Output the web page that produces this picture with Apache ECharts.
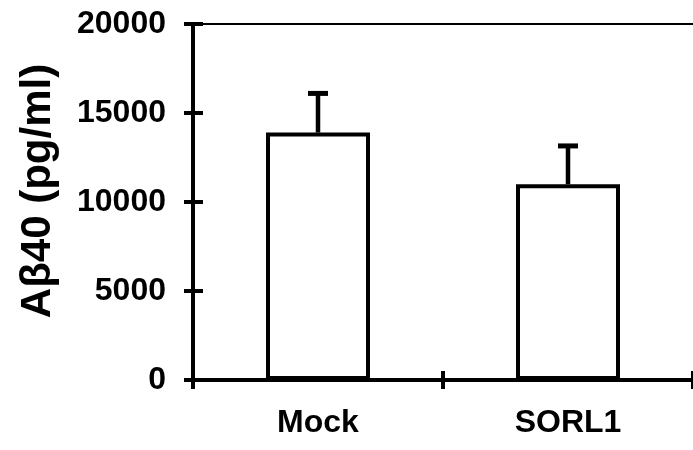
<!DOCTYPE html>
<html>
<head>
<meta charset="utf-8">
<script src="https://cdn.jsdelivr.net/npm/echarts@6/dist/echarts.min.js"></script>
<style>
html,body{margin:0;padding:0;background:#fff;}
#chart{width:693px;height:450px;}
</style>
</head>
<body>
<div id="chart"></div>
<script>
var categories = ['Mock', 'SORL1'];
var means = [13900, 11000];
var errors = [2200, 2150];
var yTicks = [0, 5000, 10000, 15000, 20000];

var FONT = '"Liberation Sans", Arial, Helvetica, sans-serif';
var chart = echarts.init(document.getElementById('chart'), null, {renderer: 'canvas'});

var errData = categories.map(function (c, i) { return [i, means[i], means[i] + errors[i]]; });
var innerTickData = yTicks.map(function (v) { return [0, v]; });

var option = {
  animation: false,
  backgroundColor: '#fff',
  grid: {left: 193, right: -4, top: 24, bottom: 70, containLabel: false},
  xAxis: [
    {
      type: 'category', data: categories, position: 'bottom',
      boundaryGap: true,
      axisLine: {show: true, onZero: false, lineStyle: {color: '#000', width: 4}},
      axisTick: {show: true, alignWithLabel: false, length: 9, inside: false, lineStyle: {color: '#000', width: 4}},
      axisLabel: {show: true, margin: 27, color: '#000', fontFamily: FONT, fontWeight: 'bold', fontSize: 32},
      splitLine: {show: false}
    },
    {
      type: 'category', data: categories, position: 'bottom', offset: 0,
      axisLine: {show: true, onZero: false, lineStyle: {color: 'rgba(0,0,0,0)', width: 1}},
      axisTick: {show: true, length: 9, inside: true, lineStyle: {color: '#000', width: 4}},
      axisLabel: {show: false},
      splitLine: {show: false}
    },
    {
      type: 'category', data: categories, position: 'top', offset: 0,
      axisLine: {show: true, onZero: false, lineStyle: {color: '#000', width: 2}},
      axisTick: {show: false},
      axisLabel: {show: false},
      splitLine: {show: false}
    }
  ],
  yAxis: [
    {
      type: 'value', position: 'left', min: yTicks[0], max: yTicks[yTicks.length - 1], interval: 5000,
      name: 'A\u03b240 (pg/ml)', nameLocation: 'middle', nameGap: 134, nameRotate: 90,
      nameTextStyle: {color: '#000', fontFamily: FONT, fontWeight: 'bold', fontSize: 42, padding: [0, 0, 0, 22]},
      axisLine: {show: true, onZero: false, lineStyle: {color: '#000', width: 4}},
      axisTick: {show: true, length: 9, inside: false, lineStyle: {color: '#000', width: 4}},
      axisLabel: {show: true, margin: 27, color: '#000', fontFamily: FONT, fontWeight: 'bold', fontSize: 32,
        formatter: function (v) { return String(v); }},
      splitLine: {show: false}
    }
  ],
  series: [
    {
      type: 'bar', data: means, xAxisIndex: 0, yAxisIndex: 0,
      barWidth: 104,
      itemStyle: {color: '#fff', borderColor: '#000', borderWidth: 4},
      z: 2
    },
    {
      type: 'custom', xAxisIndex: 1, yAxisIndex: 0, z: 3,
      data: errData,
      encode: {x: 0, y: [1, 2]},
      renderItem: function (params, api) {
        var x = api.value(0);
        var base = api.coord([x, api.value(1)]);
        var top = api.coord([x, api.value(2)]);
        var hw = 10;
        return {
          type: 'group',
          children: [
            {type: 'line', shape: {x1: base[0], y1: base[1], x2: top[0], y2: top[1]}, style: {stroke: '#000', lineWidth: 4.5}},
            {type: 'line', shape: {x1: top[0] - hw, y1: top[1], x2: top[0] + hw, y2: top[1]}, style: {stroke: '#000', lineWidth: 5}}
          ]
        };
      }
    },
    {
      type: 'custom', xAxisIndex: 0, yAxisIndex: 0, z: 4, clip: false, silent: true,
      data: innerTickData,
      encode: {x: 0, y: 1},
      renderItem: function (params, api) {
        var p = api.coord([api.value(0), api.value(1)]);
        var band = api.size([1, 0])[0];
        var x0 = p[0] - band / 2;
        return {
          type: 'line',
          shape: {x1: x0, y1: p[1], x2: x0 + 10, y2: p[1]},
          style: {stroke: '#000', lineWidth: 4}
        };
      }
    }
  ]
};
chart.setOption(option);
</script>
</body>
</html>
